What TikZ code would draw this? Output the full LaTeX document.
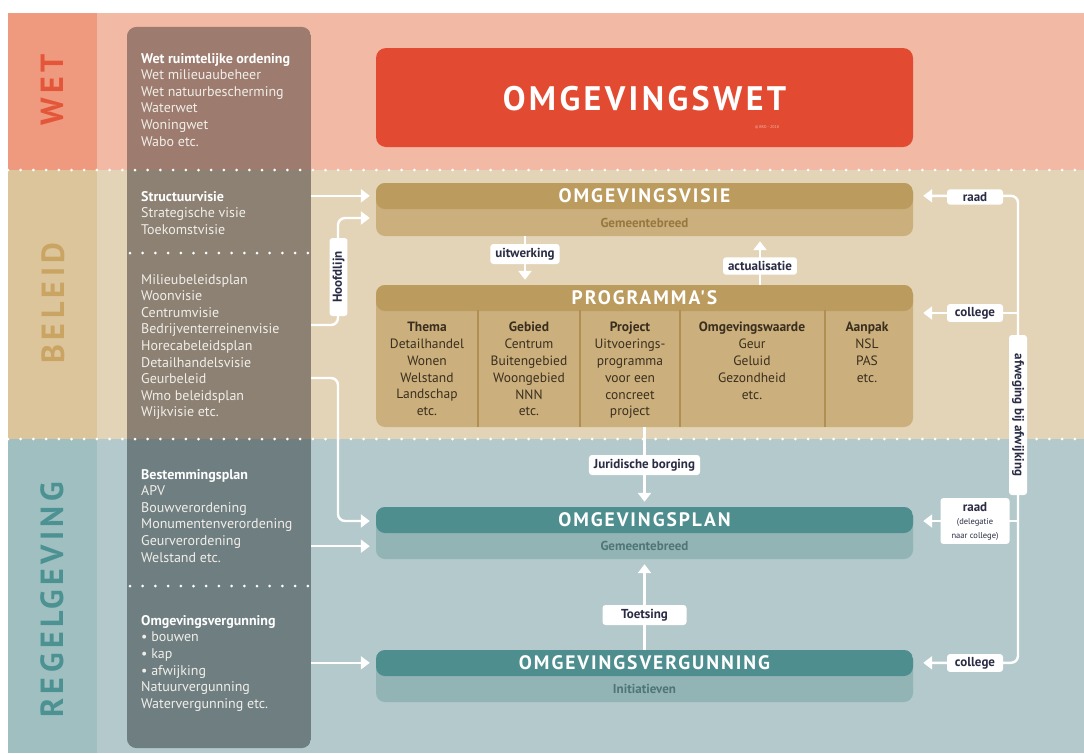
\documentclass[tikz,border=0pt]{standalone}
\usepackage{fontspec}
\setmainfont{PT Sans}
\newfontfamily\widefont[LetterSpace=10]{PT Sans}
\newfontfamily\bandfont[LetterSpace=14]{PT Sans}
\usepackage{tikz}
\usetikzlibrary{arrows.meta,positioning}

\definecolor{wetband}{HTML}{F2B9A4}
\definecolor{wetstrip}{HTML}{EF9A7E}
\definecolor{wettext}{HTML}{E4563A}
\definecolor{belband}{HTML}{E4D4B7}
\definecolor{belstrip}{HTML}{DCC59B}
\definecolor{beltext}{HTML}{C9A462}
\definecolor{regband}{HTML}{B3C9CB}
\definecolor{regstrip}{HTML}{9FBFC0}
\definecolor{regtext}{HTML}{4D9293}
\definecolor{colwet}{HTML}{9D7C6F}
\definecolor{colbel}{HTML}{8C8172}
\definecolor{colreg}{HTML}{6F7F81}
\definecolor{coltxt}{HTML}{F1EEE9}
\definecolor{wetred}{HTML}{E24B32}
\definecolor{goldhead}{HTML}{BC9C5E}
\definecolor{goldbody}{HTML}{CBB07E}
\definecolor{goldsub}{HTML}{96783F}
\definecolor{goldline}{HTML}{B08F52}
\definecolor{tealhead}{HTML}{4F8E8F}
\definecolor{tealbody}{HTML}{93B4B5}
\definecolor{tealsub}{HTML}{4F7576}
\definecolor{progtxt}{HTML}{3A2E1E}
\definecolor{labelink}{HTML}{2A2C44}

\newcommand{\tagsmall}{\mdseries\fontsize{8.5}{10}\selectfont}

\tikzset{
  flow/.style={draw=white, line width=2.4pt, -{Triangle[width=13pt,length=9pt]}, shorten >=6pt},
  tag/.style={fill=white, rounded corners=3pt, text=labelink, inner xsep=5pt, inner ysep=4pt,
    font=\bfseries\fontsize{13}{14}\selectfont},
  panel/.style 2 args={rounded corners=9pt, minimum width=537pt, inner sep=0pt, fill=#2,
    path picture={\fill[#1] (path picture bounding box.north west) rectangle
      ([yshift=-26pt]path picture bounding box.north east);}},
  paneltitle/.style={text=white, inner sep=0pt, font=\widefont\bfseries\fontsize{19.5}{21}\selectfont},
  panelsub/.style={inner sep=0pt, font=\bfseries\fontsize{13}{14}\selectfont},
  coltext/.style={align=left, anchor=north west, inner sep=0pt, text=coltxt,
    font=\fontsize{14}{16.6}\selectfont},
  progcol/.style={align=center, anchor=north, inner sep=0pt, text=progtxt,
    font=\fontsize{13.5}{16.8}\selectfont},
  bandlabel/.style={rotate=90, inner sep=0pt, font=\bandfont\bfseries\fontsize{32}{32}\selectfont},
  dots/.style={white, line width=3pt, line cap=round, dash pattern=on 0pt off 12.7pt},
}

\begin{document}
\begin{tikzpicture}[x=1pt,y=-1pt]
\useasboundingbox (0,0) rectangle (1084,753);

% bands
\fill[wetband] (8,13) rectangle (1084,170);
\fill[belband] (8,170) rectangle (1084,439);
\fill[regband] (8,439) rectangle (1084,753);
\fill[wetstrip] (8,13) rectangle (97,170);
\fill[belstrip] (8,170) rectangle (97,439);
\fill[regstrip] (8,439) rectangle (97,753);

\node[bandlabel, text=wettext] (wetlabel) at (52,90) {WET};
\node[bandlabel, text=beltext] (beleidlabel) at (53,303) {BELEID};
\node[bandlabel, text=regtext] (regellabel) at (52,600) {REGELGEVING};

% left column
\node[minimum width=184pt, minimum height=721pt, inner sep=0pt] (col) at (219,387.5) {};
\begin{scope}
  \clip[rounded corners=10pt] (col.north west) rectangle (col.south east);
  \fill[colwet] (127,20) rectangle (311,170);
  \fill[colbel] (127,170) rectangle (311,439);
  \fill[colreg] (127,439) rectangle (311,760);
\end{scope}

\draw[dots] (8,170) -- (1084,170);
\draw[dots] (8,439) -- (1084,439);
\draw[dots] (130,253) -- (311,253);
\draw[dots] (130,586) -- (311,586);

\node[coltext] (wetten) at (141,53) {\textbf{\color{white}Wet ruimtelijke ordening}\\Wet milieuaubeheer\\
  Wet natuurbescherming\\Waterwet\\Woningwet\\Wabo etc.};
\node[coltext] (visies) at (141,191) {\textbf{\color{white}Structuurvisie}\\Strategische visie\\Toekomstvisie};
\node[coltext] (beleid) at (141,274) {Milieubeleidsplan\\Woonvisie\\Centrumvisie\\Bedrijventerreinenvisie\\
  Horecabeleidsplan\\Detailhandelsvisie\\Geurbeleid\\Wmo beleidsplan\\Wijkvisie etc.};
\node[coltext] (regels) at (141,469) {\textbf{\color{white}Bestemmingsplan}\\APV\\Bouwverordening\\
  Monumentenverordening\\Geurverordening\\Welstand etc.};
\node[coltext] (vergunningen) at (141,615) {\textbf{\color{white}Omgevingsvergunning}\\\textbullet\ bouwen\\
  \textbullet\ kap\\\textbullet\ afwijking\\Natuurvergunning\\Watervergunning etc.};

% main panels
\node[fill=wetred, rounded corners=10pt, minimum width=537pt, minimum height=99pt] (omgwet) at (644.5,97.5) {};
\node[text=white, inner sep=0pt, font=\widefont\bfseries\fontsize{34}{36}\selectfont] (wettitle) at (644.5,99) {OMGEVINGSWET};
\node[text=wetband, inner sep=0pt, font=\fontsize{4}{4}\selectfont] (copyr) at (767,127) {© BRO - 2018};

\node[panel={goldhead}{goldbody}, minimum height=53pt] (visie) at (644.5,209.5) {};
\node[paneltitle] (visiehead) at ([yshift=-13pt]visie.north) {OMGEVINGSVISIE};
\node[panelsub, text=goldsub] (visiesub) at ([yshift=13pt]visie.south) {Gemeentebreed};

\node[panel={goldhead}{goldbody}, minimum height=142pt] (prog) at (644.5,356) {};
\node[paneltitle] (proghead) at ([yshift=-12.5pt]prog.north) {PROGRAMMA'S};
\foreach \sx in {478,580,680,825}
  \draw[goldline, line width=1.3pt] (\sx,310) -- (\sx,427);
\node[progcol] (thema) at (427,322) {\textbf{Thema}\\Detailhandel\\Wonen\\Welstand\\Landschap\\etc.};
\node[progcol] (gebied) at (529,322) {\textbf{Gebied}\\Centrum\\Buitengebied\\Woongebied\\NNN\\etc.};
\node[progcol] (project) at (630,322) {\textbf{Project}\\Uitvoerings-\\programma\\voor een\\concreet\\project};
\node[progcol] (waarde) at (752,322) {\textbf{Omgevingswaarde}\\Geur\\Geluid\\Gezondheid\\etc.};
\node[progcol] (aanpak) at (867,322) {\textbf{Aanpak}\\NSL\\PAS\\etc.};

\node[panel={tealhead}{tealbody}, minimum height=52pt] (plan) at (644.5,533) {};
\node[paneltitle] (planhead) at ([yshift=-13pt]plan.north) {OMGEVINGSPLAN};
\node[panelsub, text=tealsub] (plansub) at ([yshift=13pt]plan.south) {Gemeentebreed};

\node[panel={tealhead}{tealbody}, minimum height=52pt] (verg) at (644.5,676) {};
\node[paneltitle] (verghead) at ([yshift=-13pt]verg.north) {OMGEVINGSVERGUNNING};
\node[panelsub, text=tealsub] (vergsub) at ([yshift=13pt]verg.south) {Initiatieven};

% left connectors
\coordinate (hlstart) at (311,325);
\coordinate (hlbend) at (338,218);
\coordinate (geurstart) at (311,378);
\coordinate (geurbend) at (338,521);
\draw[flow] (col.east |- visiehead) -- (visiehead -| visie.west);
\draw[flow, rounded corners=7pt] (hlstart) -| (hlbend) -- (hlbend -| visie.west);
\draw[flow, rounded corners=7pt] (geurstart) -| (geurbend) -- (geurbend -| plan.west);
\draw[flow] (col.east |- plansub) -- (plansub -| plan.west);
\draw[flow] (col.east |- verghead) -- (verghead -| verg.west);
\node[tag, rotate=90, minimum width=78pt, inner ysep=3pt] (hoofdlijn) at (338.5,277) {Hoofdlijn};

% middle connectors
\coordinate (uitx) at (525,254);
\coordinate (actx) at (760,266);
\coordinate (borgx) at (644.5,465);
\coordinate (toetsx) at (644.5,615);
\draw[flow, shorten >=5pt] (visie.south -| uitx) -- (prog.north -| uitx);
\draw[flow, shorten >=5pt] (prog.north -| actx) -- (visie.south -| actx);
\draw[flow, shorten >=5pt] (prog.south) -- (plan.north);
\draw[flow, shorten >=5pt] (verg.north) -- (plan.south);
\node[tag] (uitwerking) at (uitx) {uitwerking};
\node[tag] (actual) at (actx) {actualisatie};
\node[tag] (borging) at (borgx) {Juridische borging};
\node[tag, minimum width=84pt] (toetsing) at (toetsx) {Toetsing};

% right connectors
\coordinate (spine) at (1018,430);
\coordinate (progright) at ([yshift=43pt]prog.east);
\draw[flow, shorten >=10pt, rounded corners=7pt] (spine) |- (visiehead -| visie.east);
\draw[flow, shorten >=10pt, rounded corners=7pt] (spine) |- (verghead -| verg.east);
\draw[flow, shorten >=10pt] (spine |- progright) -- (progright);
\draw[flow, shorten >=10pt] (spine |- geurbend) -- (geurbend -| plan.east);
\node[tag, minimum width=56pt, inner ysep=3pt] (raadtop) at (975,197) {raad};
\node[tag, minimum width=56pt, inner ysep=3pt] (collegetop) at (975,313) {college};
\node[tag, align=center, minimum width=69pt] (raadplan) at (975,521)
  {raad\\[-1pt]{\tagsmall(delegatie}\\{\tagsmall naar college)}};
\node[tag, minimum width=56pt, inner ysep=3pt] (collegebot) at (975,663) {college};
\node[tag, rotate=-90, minimum width=160pt, inner ysep=3pt] (afweging) at (1018,415) {afweging bij afwijking};
\end{tikzpicture}
\end{document}
